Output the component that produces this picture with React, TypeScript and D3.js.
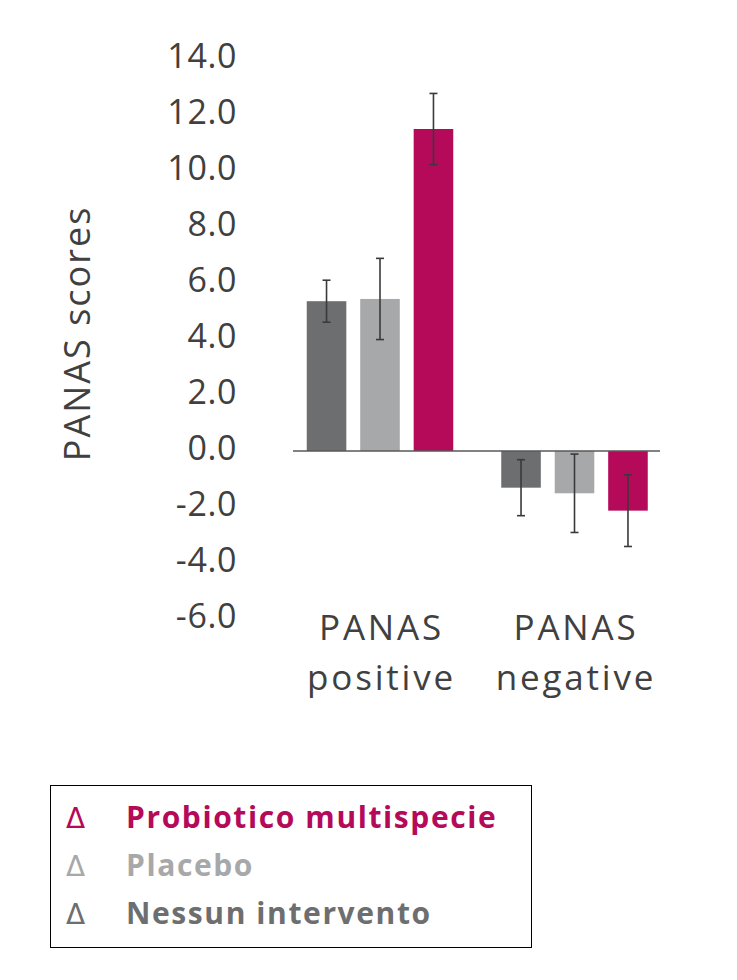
import React from "react";
import * as d3 from "d3";

const categories = ["PANAS positive", "PANAS negative"];
const categoryLines = [["PANAS", "positive"], ["PANAS", "negative"]];
const series = ["Nessun intervento", "Placebo", "Probiotico multispecie"];
const legendOrder = ["Probiotico multispecie", "Placebo", "Nessun intervento"];
const nessunValues = [5.35, -1.31];
const nessunErrors = [0.75, 1.0];
const placeboValues = [5.43, -1.51];
const placeboErrors = [1.45, 1.4];
const probioticoValues = [11.5, -2.13];
const probioticoErrors = [1.27, 1.28];
const yTicks = [14, 12, 10, 8, 6, 4, 2, 0, -2, -4, -6];

const colors: Record<string, string> = {
  "Nessun intervento": "#6d6e70",
  Placebo: "#a7a8aa",
  "Probiotico multispecie": "#b5095a",
};

const valuesBySeries: Record<string, number[]> = {
  "Nessun intervento": nessunValues,
  Placebo: placeboValues,
  "Probiotico multispecie": probioticoValues,
};
const errorsBySeries: Record<string, number[]> = {
  "Nessun intervento": nessunErrors,
  Placebo: placeboErrors,
  "Probiotico multispecie": probioticoErrors,
};

export default function App() {
  const W = 737;
  const H = 980;
  const y = d3.scaleLinear().domain([-6, 14]).range([619, 59]);
  const x0 = d3
    .scaleBand<string>()
    .domain(categories)
    .range([282.75, 671.75])
    .paddingInner(0)
    .paddingOuter(0);
  const x1 = d3
    .scaleBand<string>()
    .domain(series)
    .range([0, 146.5])
    .paddingInner(0.26)
    .paddingOuter(0);
  const groupOffset = (x0.bandwidth() - 146.5) / 2;
  const font = "'Open Sans', 'Noto Sans', sans-serif";
  const textColor = "#404040";

  return (
    <svg
      width={W}
      height={H}
      style={{ position: "absolute", left: 0, top: 0, background: "#fff" }}
      fontFamily={font}
    >
      {/* y tick labels */}
      {yTicks.map((t) => (
        <text
          key={t}
          x={237}
          y={y(t) - 4}
          textAnchor="end"
          dominantBaseline="central"
          fontSize={34}
          fill={textColor}
          fontWeight={400}
          letterSpacing={0.6}
        >
          {t.toFixed(1)}
        </text>
      ))}
      {/* y axis title */}
      <text
        transform={`translate(76, ${y(4.2)}) rotate(-90)`}
        textAnchor="middle"
        dominantBaseline="central"
        fontSize={36}
        fontWeight={400}
        letterSpacing={2}
        fill={textColor}
      >
        PANAS scores
      </text>
      {/* bars */}
      {categories.map((c, ci) => (
        <g key={c} transform={`translate(${(x0(c) ?? 0) + groupOffset},0)`}>
          {series.map((s) => {
            const v = valuesBySeries[s][ci];
            const e = errorsBySeries[s][ci];
            const bx = x1(s) ?? 0;
            const bw = x1.bandwidth();
            const cx = bx + bw / 2;
            return (
              <g key={s}>
                <rect
                  x={bx}
                  y={Math.min(y(v), y(0))}
                  width={bw}
                  height={Math.abs(y(v) - y(0))}
                  fill={colors[s]}
                />
                <line x1={cx} x2={cx} y1={y(v + e)} y2={y(v - e)} stroke="#3a3a3a" strokeWidth={1.6} />
                <line x1={cx - 4} x2={cx + 4} y1={y(v + e)} y2={y(v + e)} stroke="#3a3a3a" strokeWidth={1.6} />
                <line x1={cx - 4} x2={cx + 4} y1={y(v - e)} y2={y(v - e)} stroke="#3a3a3a" strokeWidth={1.6} />
              </g>
            );
          })}
        </g>
      ))}
      {/* zero axis */}
      <line x1={293} x2={660} y1={y(0)} y2={y(0)} stroke="#595959" strokeWidth={1.6} />
      {/* category labels */}
      {categories.map((c, ci) => {
        const cx = (x0(c) ?? 0) + x0.bandwidth() / 2 + 1.5;
        return (
          <text
            key={c}
            x={cx}
            textAnchor="middle"
            fontSize={35}
            fontWeight={400}
            letterSpacing={2.8}
            fill={textColor}
          >
            {categoryLines[ci].map((l, li) => (
              <tspan key={li} x={cx} y={640 + li * 50}>
                {l}
              </tspan>
            ))}
          </text>
        );
      })}
      {/* legend */}
      <rect x={50.5} y={785.5} width={481} height={162} fill="#fff" stroke="#000" strokeWidth={1} />
      {legendOrder.map((s, i) => (
        <g key={s}>
          <text x={66} y={828 + i * 48} fontSize={28} fill={colors[s]} fontFamily="'DejaVu Sans', sans-serif">
            Δ
          </text>
          <text x={126} y={828 + i * 48} fontSize={30} fontWeight={700} letterSpacing={1.6} fill={colors[s]}>
            {s}
          </text>
        </g>
      ))}
    </svg>
  );
}
